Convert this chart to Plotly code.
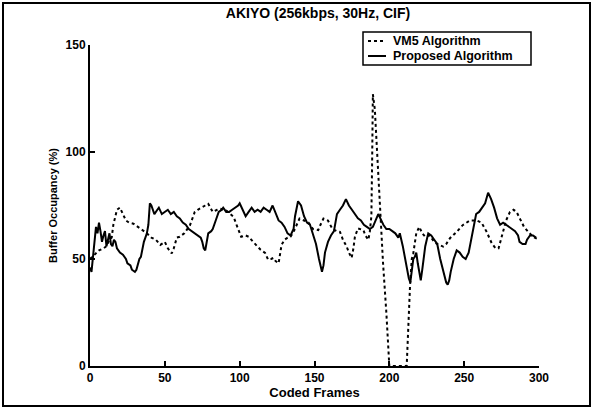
import plotly.graph_objects as go

# Buffer occupancy traces for AKIYO (256 kbps, 30 Hz, CIF)
proposed_frames = [0, 1, 2, 3, 4, 5, 6, 7, 8, 9, 10, 11, 12, 13, 14, 15, 16, 17, 18, 19,
                   20, 22, 23, 24, 25, 27, 28, 30, 31, 32, 33, 34, 35, 36, 37, 38, 39, 40,
                   41, 42, 43, 45, 46, 48, 50, 52, 54, 56, 58, 60, 62, 64, 66, 68, 70, 72,
                   74, 75, 76, 77, 78, 79, 81, 82, 84, 86, 88, 89, 91, 93, 95, 97, 99, 100,
                   102, 104, 106, 108, 110, 112, 114, 116, 118, 120, 122, 124, 126, 128,
                   130, 132, 134, 136, 137, 139, 141, 143, 145, 147, 149, 151, 153, 155,
                   156, 157, 159, 161, 163, 165, 167, 169, 171, 173, 175, 177, 179, 181,
                   183, 185, 187, 189, 191, 192.6, 194, 196, 198, 200, 202, 204, 206, 207,
                   209, 211, 213, 214, 215, 216, 217, 218, 219, 220, 221, 222, 223, 224,
                   226, 228, 230, 232, 234, 236, 238, 239, 240, 241, 243, 245, 247, 249,
                   251, 253, 255, 257, 258, 260, 262, 264, 266, 268, 270, 272, 274, 276,
                   278, 280, 282, 284, 286, 287, 289, 291, 292, 294, 296, 298]
proposed_values = [46, 44, 51, 58, 65, 62, 67, 63, 58, 61, 63, 56, 60, 62, 57, 56, 59, 58, 55, 54,
                   53, 52, 51, 50, 48, 47, 45, 44, 45, 48, 50, 51, 55, 58, 60, 62, 66, 76,
                   75, 73, 71, 73, 74, 71, 72, 73, 71, 72, 70, 69, 67, 66, 64, 63, 62, 61,
                   60, 58, 55, 54, 58, 62, 63, 64, 68, 72, 73, 74, 72, 72, 73, 74, 75, 76,
                   73, 70, 72, 74, 72, 73, 72, 74, 73, 72, 75, 71, 68, 67,
                   65, 62, 61, 64, 70, 77, 75, 70, 67, 66, 62, 57, 50, 44,
                   47, 53, 58, 61, 63, 71, 73, 75, 78, 75, 73, 71, 69, 68,
                   66, 65, 64, 65, 68, 71, 69, 66, 64, 64, 63, 62, 60, 62,
                   56, 48, 41, 39, 46, 50, 51, 53, 48, 43, 40, 45, 52, 56,
                   62, 61, 59, 57, 50, 45, 39, 38, 40, 44, 50, 54, 53, 51,
                   50, 53, 60, 67, 71, 72, 74, 76, 81, 78, 74, 69, 66, 67,
                   66, 65, 64, 63, 61, 58, 57, 57, 59, 61, 61, 60]

vm5_frames = [0, 3, 6, 9, 11, 13, 14.5, 15.6, 17, 18, 20, 22, 24, 26, 29, 32, 35, 38, 41,
              44, 47, 50, 52, 54.6, 56, 58, 60, 63, 66.8, 70, 72, 74.6, 77, 79, 82, 85,
              87, 91, 94, 96, 98, 101, 104, 106, 109, 112, 114, 117, 119, 121, 122.5,
              124, 126, 128, 130, 132, 134, 136, 138, 140, 143, 146, 149, 152.5, 154,
              156, 159, 162, 165, 167, 169, 171.5, 173, 174.8, 176, 177, 179, 182.7,
              184, 186, 187, 188, 188.5, 189, 190.3, 192, 193.6, 195.8, 198, 200,
              211.6, 212.6, 213.8, 215, 216, 218, 220, 222, 224, 227, 230, 232, 236,
              238, 240.5, 245, 249, 253.8, 258.3, 261.6, 265, 268.4, 271, 273, 276,
              278, 280.6, 283, 285, 288.4, 290, 292.8, 296, 300]
vm5_values = [50, 52, 54, 55, 56, 59, 60, 66, 71, 73, 74, 71, 68, 67, 66.5, 65, 63.5, 62, 60,
              59, 56.6, 58, 55, 52.6, 55, 60, 60.4, 62, 65.8, 72, 73, 74.2, 75, 75.8, 72, 73,
              73.5, 72.7, 71, 69.6, 65.8, 60.4, 61, 60.4, 58, 55.5, 54.3, 52.8, 49.7, 50, 50.5,
              49, 48, 56.6, 59, 60, 60.4, 62.7, 66, 68.9, 68, 67, 64, 63.5, 66,
              68.9, 68, 64, 63, 62.7, 59, 55.8, 53, 50.5, 55, 60.4, 64.3, 63.5,
              61, 59, 63, 70, 95, 127, 120, 97, 74.5, 48, 25, 0,
              0, 21.5, 37, 50, 52.6, 62, 65, 62, 60.4, 61, 58, 57, 55.8,
              57, 59.7, 62.7, 65.8, 68, 68, 67, 62.7, 57.4, 55, 55, 62.7,
              68, 72, 73, 72, 67.3, 65, 62.7, 60.4, 59]

x_ticks = [0, 50, 100, 150, 200, 250, 300]
y_ticks = [0, 50, 100, 150]
series_names = ["VM5 Algorithm", "Proposed Algorithm"]

FONT = "Liberation Sans, Arial, sans-serif"
W, H = 594, 410
ML, MR, MT, MB = 90, 55, 45, 44
PW, PH = W - ML - MR, H - MT - MB


def px(x):
    """Pixel column -> paper x."""
    return (x - ML) / PW


def py(y):
    """Pixel row -> paper y."""
    return (H - MB - y) / PH


fig = go.Figure()
fig.add_trace(go.Scatter(
    x=vm5_frames, y=vm5_values, mode="lines", name=series_names[0],
    line=dict(color="black", width=2, dash="3px,3px"),
))
fig.add_trace(go.Scatter(
    x=proposed_frames, y=proposed_values, mode="lines", name=series_names[1],
    line=dict(color="black", width=2),
))

axis_common = dict(
    showgrid=False, zeroline=False, showline=True, linecolor="black", linewidth=2,
    ticks="inside", ticklen=5, tickwidth=2, tickcolor="black",
    tickfont=dict(family=FONT, size=12, color="black", weight="bold"),
)

# compact boxed legend in the upper right
row1, row2 = 41, 56
legend_shapes = [
    dict(type="rect", xref="paper", yref="paper",
         x0=px(363), x1=px(531), y0=py(65), y1=py(32),
         line=dict(color="black", width=1.5), fillcolor="white"),
    dict(type="line", xref="paper", yref="paper",
         x0=px(368), x1=px(386), y0=py(row1), y1=py(row1),
         line=dict(color="black", width=2, dash="3px,3px")),
    dict(type="line", xref="paper", yref="paper",
         x0=px(368), x1=px(386), y0=py(row2), y1=py(row2),
         line=dict(color="black", width=2)),
]
legend_labels = [
    dict(text=f"<b>{name}</b>", xref="paper", yref="paper",
         x=px(391), y=py(row), xanchor="left", yanchor="middle", showarrow=False,
         font=dict(family=FONT, size=12.5, color="black"))
    for name, row in zip(series_names, [row1, row2])
]

fig.update_layout(
    width=W, height=H,
    margin=dict(l=ML, r=MR, t=MT, b=MB),
    paper_bgcolor="white", plot_bgcolor="white",
    showlegend=False,
    title=dict(
        text="<b>AKIYO (256kbps, 30Hz, CIF)</b>",
        font=dict(family=FONT, size=14, color="black"),
        x=318 / W, xanchor="center", y=1 - 13 / H, yanchor="middle",
    ),
    xaxis=dict(
        range=[0, 300], tickvals=x_ticks, **axis_common,
        title=dict(text="<b>Coded Frames</b>", font=dict(family=FONT, size=13, color="black"),
                   standoff=1),
    ),
    yaxis=dict(
        range=[0, 150], tickvals=y_ticks, **axis_common,
        title=dict(text="<b>Buffer Occupancy (%)</b>", font=dict(family=FONT, size=11, color="black"),
                   standoff=6),
    ),
    shapes=[
        # outer frame of the figure
        dict(type="rect", xref="paper", yref="paper",
             x0=px(3), x1=px(590), y0=py(406), y1=py(3),
             line=dict(color="black", width=2), fillcolor="rgba(0,0,0,0)", layer="below"),
    ] + legend_shapes,
    annotations=legend_labels,
)

fig.write_html("out.html")
